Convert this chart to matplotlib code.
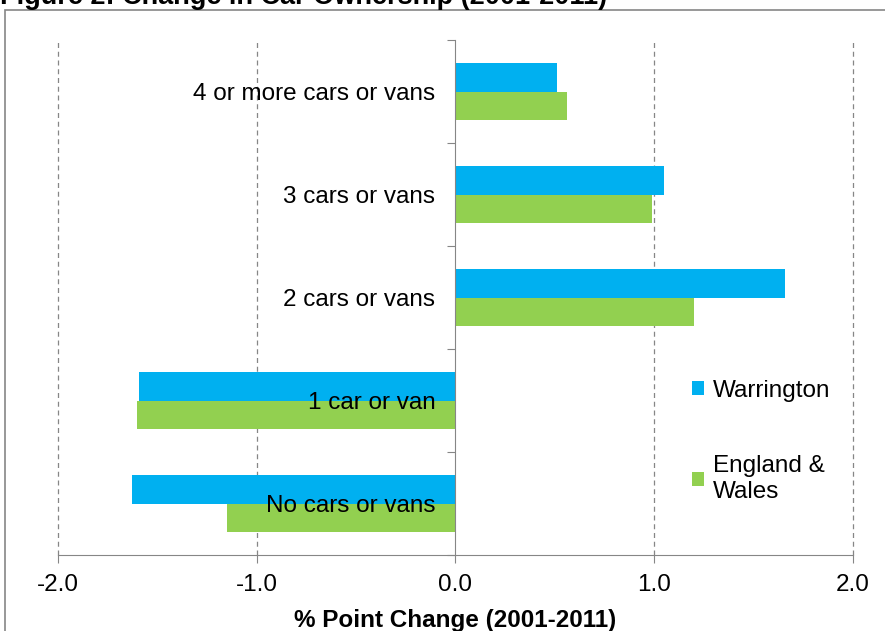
import numpy as np
import matplotlib
matplotlib.use("Agg")
import matplotlib.pyplot as plt
from matplotlib.patches import Rectangle

# categories from bottom to top
categories = ["No cars or vans", "1 car or van", "2 cars or vans",
              "3 cars or vans", "4 or more cars or vans"]
warrington = [-1.63, -1.59, 1.66, 1.05, 0.51]
england_wales = [-1.15, -1.60, 1.20, 0.99, 0.56]
series_names = ["Warrington", "England &\nWales"]
x_ticks = [-2.0, -1.0, 0.0, 1.0, 2.0]

BLUE = "#00B0F0"
GREEN = "#92D050"
GREY = "#868686"
FS = 17.5


def set_plot_settings():
    plt.rcParams.update({
        "font.family": ["Liberation Sans", "DejaVu Sans"],
        "font.size": FS,
    })


def main():
    set_plot_settings()
    fig = plt.figure(figsize=(8.85, 6.31), dpi=100)
    ax = fig.add_axes([0.0655, 0.1204, 0.8983, 0.8162])

    y = np.arange(len(categories))
    h = 0.28
    ax.barh(y + h / 2, warrington, height=h, color=BLUE, label=series_names[0], zorder=3)
    ax.barh(y - h / 2, england_wales, height=h, color=GREEN, label=series_names[1], zorder=3)

    ax.set_xlim(-2, 2)
    ax.set_ylim(-0.5, len(categories) - 0.5)
    ax.set_xticks(x_ticks)
    ax.set_xticklabels([f"{v:.1f}" for v in x_ticks], fontsize=FS)
    ax.tick_params(axis="x", direction="out", length=6, color=GREY, pad=7.5)

    # vertical dashed grid (except at zero where the axis sits)
    for v in x_ticks:
        if v != 0:
            ax.axvline(v, color=GREY, linestyle=(0, (4, 3)), linewidth=0.9,
                       zorder=1, clip_on=False)

    # y axis sits at zero, ticks at category boundaries, labels at centres
    ax.spines["left"].set_position(("data", 0))
    ax.spines["left"].set_color(GREY)
    ax.spines["left"].set_zorder(4)
    ax.spines["bottom"].set_color(GREY)
    ax.spines["top"].set_visible(False)
    ax.spines["right"].set_visible(False)
    ax.set_yticks(np.arange(-0.5, len(categories)), minor=False)
    ax.set_yticklabels([])
    ax.set_yticks(y, minor=True)
    ax.set_yticklabels(categories, minor=True, fontsize=FS)
    ax.tick_params(axis="y", which="major", direction="out", length=6, color=GREY)
    ax.tick_params(axis="y", which="minor", length=0, pad=14.5)
    # labels drawn over the bars
    ax.yaxis.set_zorder(5)

    ax.set_xlabel("% Point Change (2001-2011)", fontweight="bold", fontsize=FS)
    ax.xaxis.set_label_coords(0.5, -0.104)

    ax.legend(loc="upper left", bbox_to_anchor=(0.77, 0.383), frameon=False,
              handlelength=0.5, handleheight=0.5, handletextpad=0.35,
              labelspacing=2.2, fontsize=FS)

    # outer chart frame
    fig.patches.append(Rectangle((5 / 885, -0.1), 1.2, 1 - 10 / 631 + 0.1,
                                 transform=fig.transFigure, fill=False,
                                 edgecolor=GREY, linewidth=1.2, clip_on=False))

    fig.text(0.0, 1 - 4 / 631, "Figure 2: Change in Car Ownership (2001-2011)",
             fontweight="bold", fontsize=19.5, va="baseline", ha="left")

    fig.savefig("out.png", dpi=100)
    plt.close()


if __name__ == "__main__":
    main()
